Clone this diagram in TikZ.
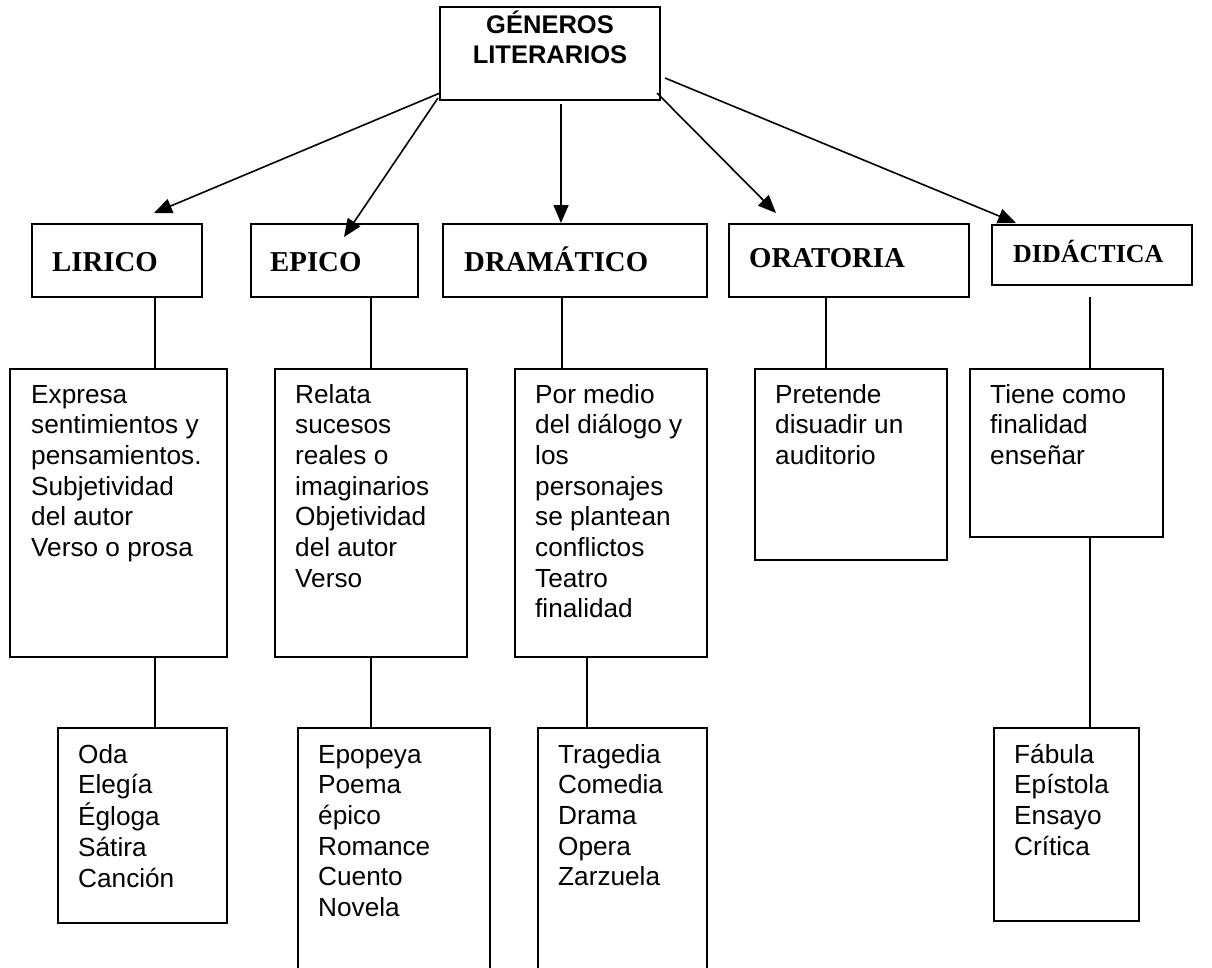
\documentclass[tikz,border=0pt]{standalone}
\usepackage{fontspec}
\setmainfont{Liberation Sans}
\newfontfamily\hdrfont{Liberation Serif}
\usetikzlibrary{arrows.meta,fit}
\newcommand\mylines[1]{\begin{tabular}[t]{@{}l@{}}#1\end{tabular}}
\newcommand\mylinesc[1]{\begin{tabular}[t]{@{}c@{}}#1\end{tabular}}
\begin{document}
\begin{tikzpicture}[x=1pt,y=-1pt,
  boxx/.style={draw,line width=1.8pt,inner sep=0pt},
  hdr/.style={font=\hdrfont\bfseries\fontsize{28.8}{34}\selectfont,anchor=base west,inner sep=0pt},
  hdrs/.style={font=\hdrfont\bfseries\fontsize{26}{31}\selectfont,anchor=base west,inner sep=0pt},
  det/.style={font=\fontsize{26.2}{30.7}\selectfont,anchor=base west,inner sep=0pt},
  ttl/.style={font=\bfseries\fontsize{25.5}{30}\selectfont,anchor=base,inner sep=0pt},
  conn/.style={line width=1.8pt},
  arr/.style={line width=1.6pt,-{Triangle[length=18pt,width=15pt]}}]
\useasboundingbox[fill=white] (0,0) rectangle (1212,967);

% top box
\node[boxx,fit={(440,7) (660,100)}] (top) {};
\node[ttl] (topT) at (550,33) {\mylinesc{GÉNEROS\\LITERARIOS}};

% header boxes
\node[boxx,fit={(32,224) (202,297)}] (lirico) {};
\node[boxx,fit={(251,224) (418,297)}] (epico) {};
\node[boxx,fit={(443,224) (707,297)}] (drama) {};
\node[boxx,fit={(729,224) (969,297)}] (orat) {};
\node[boxx,fit={(992,225) (1192,285)}] (didac) {};
\node[hdr] (liricoT) at (52,271) {LIRICO};
\node[hdr] (epicoT) at (270,271) {EPICO};
\node[hdr] (dramaT) at (464,271) {DRAMÁTICO};
\node[hdr] (oratT) at (749,267) {ORATORIA};
\node[hdrs] (didacT) at (1013,262) {DIDÁCTICA};

% first row of detail boxes
\node[boxx,fit={(10,369) (227,657)}] (expresa) {};
\node[boxx,fit={(275,369) (467,657)}] (relata) {};
\node[boxx,fit={(515,369) (707,657)}] (pormedio) {};
\node[boxx,fit={(755,369) (947,560)}] (pretende) {};
\node[boxx,fit={(970,369) (1163,537)}] (tiene) {};
\node[det] (expresaT) at (31,403) {\mylines{Expresa\\sentimientos y\\pensamientos.\\Subjetividad\\del autor\\Verso o prosa}};
\node[det] (relataT) at (295,403) {\mylines{Relata\\sucesos\\reales o\\imaginarios\\Objetividad\\del autor\\Verso}};
\node[det] (pormedioT) at (535,403) {\mylines{Por medio\\del diálogo y\\los\\personajes\\se plantean\\conflictos\\Teatro\\finalidad}};
\node[det] (pretendeT) at (775,403) {\mylines{Pretende\\disuadir un\\auditorio}};
\node[det] (tieneT) at (990,403) {\mylines{Tiene como\\finalidad\\enseñar}};

% second row of detail boxes
\node[boxx,fit={(58,728) (227,923)}] (oda) {};
\node[boxx,fit={(298,728) (490,985)}] (epopeya) {};
\node[boxx,fit={(538,728) (707,985)}] (tragedia) {};
\node[boxx,fit={(994,728) (1139,921)}] (fabula) {};
\node[det] (odaT) at (78,763) {\mylines{Oda\\Elegía\\Égloga\\Sátira\\Canción}};
\node[det] (epopeyaT) at (318,763) {\mylines{Epopeya\\Poema\\épico\\Romance\\Cuento\\Novela}};
\node[det] (tragediaT) at (558,763) {\mylines{Tragedia\\Comedia\\Drama\\Opera\\Zarzuela}};
\node[det] (fabulaT) at (1014,763) {\mylines{Fábula\\Epístola\\Ensayo\\Crítica}};

% arrows from the top box
\coordinate (sL) at (440,93);  \coordinate (tL) at (154,213);
\coordinate (sE) at (438,98);  \coordinate (tE) at (344,237);
\coordinate (sD) at (561,104); \coordinate (tD) at (561,223);
\coordinate (sO) at (657,93);  \coordinate (tO) at (776,213);
\coordinate (sI) at (665,78);  \coordinate (tI) at (1016,223);
\draw[arr] (sL) -- (tL);
\draw[arr] (sE) -- (tE);
\draw[arr] (sD) -- (tD);
\draw[arr] (sO) -- (tO);
\draw[arr] (sI) -- (tI);

% vertical connectors
\coordinate (xL) at (155,0);
\coordinate (xE) at (371,0);
\coordinate (xD) at (562,0);
\coordinate (xD2) at (587,0);
\coordinate (xO) at (826,0);
\coordinate (xI) at (1090,0);
\coordinate (gI) at (1090,297);
\draw[conn] (xL |- lirico.south) -- (xL |- expresa.north);
\draw[conn] (xE |- epico.south) -- (xE |- relata.north);
\draw[conn] (xD |- drama.south) -- (xD |- pormedio.north);
\draw[conn] (xO |- orat.south) -- (xO |- pretende.north);
\draw[conn] (gI) -- (xI |- tiene.north);
\draw[conn] (xL |- expresa.south) -- (xL |- oda.north);
\draw[conn] (xE |- relata.south) -- (xE |- epopeya.north);
\draw[conn] (xD2 |- pormedio.south) -- (xD2 |- tragedia.north);
\draw[conn] (xI |- tiene.south) -- (xI |- fabula.north);
\end{tikzpicture}
\end{document}
